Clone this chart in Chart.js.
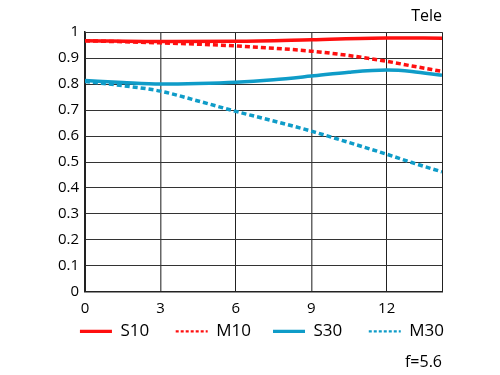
<!DOCTYPE html>
<html>
<head>
<meta charset="utf-8">
<script src="https://cdn.jsdelivr.net/npm/chart.js@4.4.1/dist/chart.umd.min.js"></script>
<style>
  html, body { margin: 0; padding: 0; background: #fff; }
  #wrap { width: 500px; height: 375px; }
</style>
</head>
<body>
<div id="wrap"><canvas id="mtf" width="500" height="375"></canvas></div>
<script>
// image height (mm) positions and MTF values
const xMax = 14.2;
const xS10 = [0, 3, 6, 9, 12, 14.2];
const s10 = [0.967, 0.964, 0.965, 0.971, 0.978, 0.977];
const xM10 = [0, 3, 6, 9, 10.5, 12, 13, 14.2];
const m10 = [0.967, 0.959, 0.947, 0.927, 0.91, 0.888, 0.87, 0.849];
const xS30 = [0, 1.5, 3, 4.5, 6, 7.5, 9, 10.5, 12, 13, 14.2];
const s30 = [0.814, 0.806, 0.800, 0.802, 0.807, 0.817, 0.831, 0.846, 0.854, 0.849, 0.834];
const xM30 = [0, 1.5, 3, 4.5, 6, 7.5, 9, 10.5, 12, 13, 14.2];
const m30 = [0.81, 0.794, 0.773, 0.735, 0.695, 0.658, 0.619, 0.575, 0.53, 0.498, 0.462];

const RED = '#ff0f0f';
const BLUE = '#0f9cc8';
const FONT = '"Open Sans", "Noto Sans", sans-serif';

// trailing spaces used to spread the legend entries out
const legendSpaces = [6, 5, 6, 0];

const pts = (xs, ys) => xs.map((x, i) => ({ x: x, y: ys[i] }));

function line(label, xs, ys, color, dash) {
    return {
        label: label,
        data: pts(xs, ys),
        borderColor: color,
        backgroundColor: color,
        borderWidth: 3.5,
        borderDash: dash,
        pointRadius: 0,
        fill: false,
        cubicInterpolationMode: 'monotone'
    };
}

// nudge the legend row so it lines up under the plot
const shiftLegend = {
    id: 'shiftLegend',
    afterLayout(chart) {
        chart.legend.left += 2;
        chart.legend.right += 2;
        chart.legend.top -= 2;
        chart.legend.bottom -= 2;
    }
};

new Chart(document.getElementById('mtf'), {
    type: 'line',
    data: {
        datasets: [
            line('S10', xS10, s10, RED, []),
            line('M10', xM10, m10, RED, [5, 3]),
            line('S30', xS30, s30, BLUE, []),
            line('M30', xM30, m30, BLUE, [5, 3])
        ]
    },
    plugins: [shiftLegend],
    options: {
        responsive: false,
        animation: false,
        layout: { padding: { left: 0, right: 58, top: 0, bottom: 3 } },
        scales: {
            x: {
                type: 'linear',
                min: 0,
                max: xMax,
                border: { display: true, color: '#222', width: 1.5 },
                grid: {
                    drawTicks: false,
                    color: ctx => (ctx.tick && (ctx.tick.value === 3 || ctx.tick.value === 9)) ? '#666' : '#222',
                    lineWidth: ctx => (ctx.tick && (ctx.tick.value === 3 || ctx.tick.value === 9)) ? 1.5 : 1
                },
                ticks: {
                    stepSize: 3,
                    padding: 7.5,
                    color: '#000',
                    font: { family: FONT, size: 15 },
                    maxRotation: 0,
                    callback: v => (v % 3 === 0 ? String(v) : '')
                }
            },
            y: {
                min: 0,
                max: 1,
                border: { display: true, color: '#222', width: 1.5 },
                grid: { drawTicks: false, color: '#333', lineWidth: 1 },
                ticks: {
                    stepSize: 0.1,
                    padding: 6,
                    color: '#000',
                    font: { family: FONT, size: 15 },
                    callback: v => String(Number(v.toFixed(1)))
                },
                afterFit: scale => { scale.width = 85; }
            }
        },
        plugins: {
            tooltip: { enabled: false },
            title: {
                display: true,
                text: 'Tele',
                align: 'end',
                color: '#000',
                font: { family: FONT, size: 16, weight: 'normal' },
                padding: { top: 7, bottom: 6 }
            },
            subtitle: {
                display: true,
                text: 'f=5.6',
                position: 'bottom',
                align: 'end',
                color: '#000',
                font: { family: FONT, size: 16 },
                padding: { top: 1, bottom: 0 }
            },
            legend: {
                position: 'bottom',
                align: 'end',
                labels: {
                    usePointStyle: true,
                    pointStyle: 'line',
                    pointStyleWidth: 32,
                    boxHeight: 4,
                    padding: 0,
                    color: '#000',
                    font: { family: FONT, size: 17 },
                    generateLabels: chart => chart.data.datasets.map((ds, i) => ({
                        text: ds.label + ' '.repeat(legendSpaces[i]),
                        fillStyle: ds.borderColor,
                        strokeStyle: ds.borderColor,
                        fontColor: '#000',
                        lineWidth: ds.borderDash.length ? 2.3 : 3.3,
                        lineDash: ds.borderDash.length ? [3, 2] : [],
                        pointStyle: 'line',
                        hidden: false,
                        datasetIndex: i
                    }))
                }
            }
        }
    }
});
</script>
</body>
</html>
